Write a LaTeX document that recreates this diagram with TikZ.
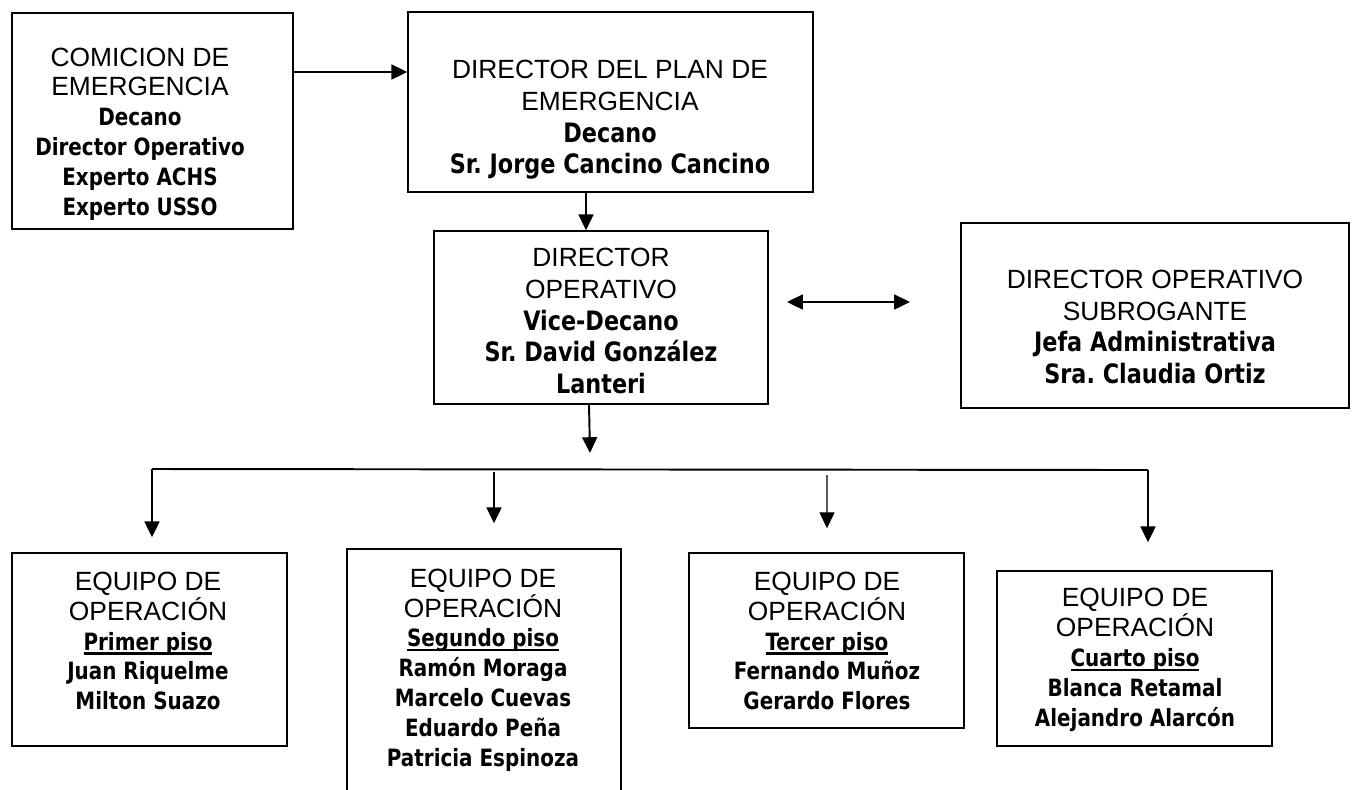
\documentclass[tikz,border=0pt]{standalone}
\usepackage{fontspec}
\usetikzlibrary{
  arrows.meta
  , calc
}
\newfontfamily\capfont{Liberation Sans}
\newfontfamily\namefont{DejaVu Sans Condensed}[FakeStretch=0.93]
\frenchspacing

\newcommand{\nmsz}{13.55}
\newcommand{\lskip}{17}
\tikzset{
  box/.style 2 args={draw, line width=0.85pt, inner sep=0pt,
    minimum width=#1*0.02cm, minimum height=#2*0.02cm},
  txt/.style={align=center, inner sep=0pt,
    font=\fontsize{15}{\lskip}\selectfont},
  big/.style={/utils/exec={\renewcommand{\nmsz}{15.2}\renewcommand{\lskip}{18}}},
  arr/.style={line width=1.1pt, -{Triangle[length=9pt, width=8.5pt]}},
  both/.style={line width=1.1pt, {Triangle[length=9pt, width=8.5pt]}-{Triangle[length=9pt, width=8.5pt]}},
}
\newcommand{\up}[1]{{\capfont #1}}
\newcommand{\nm}[1]{{\namefont\bfseries\fontsize{\nmsz}{\lskip}\selectfont #1}}
\newcommand{\ul}[1]{\leavevmode\setbox0\hbox{#1}\rlap{\raisebox{-2.6pt}{\rule{\wd0}{1.5pt}}}\box0}

\begin{document}
\begin{tikzpicture}[x=0.02cm, y=-0.02cm]
  \useasboundingbox (0,0) rectangle (1355,789);

  % boxes
  \node [box={281}{216}] (com) at (152.5,121) {};
  \node [box={405}{180}] (dir) at (610.5,102) {};
  \node [box={334}{173}] (ope) at (601,317.5) {};
  \node [box={388}{185}] (sub) at (1155,315.5) {};
  \node [box={275}{193}] (pri) at (149.5,649.5) {};
  \node [box={274}{251}] (seg) at (484,674.5) {};
  \node [box={275}{175}] (ter) at (826.5,640.5) {};
  \node [box={275}{175}] (cua) at (1134.5,658.5) {};

  % texts
  \node [txt] (comT) at (140,134) {\up{COMICION DE}\\ \up{EMERGENCIA}\\ \nm{Decano}\\
    \nm{Director Operativo}\\ \nm{Experto ACHS}\\ \nm{Experto USSO}};
  \node [txt, big] (dirT) at (610,120) {\up{DIRECTOR DEL PLAN DE}\\ \up{EMERGENCIA}\\
    \nm{Decano}\\ \nm{Sr. Jorge Cancino Cancino}};
  \node [txt, big] (opeT) at (601,321) {\up{DIRECTOR}\\ \up{OPERATIVO}\\ \nm{Vice-Decano}\\
    \nm{Sr. David González}\\ \nm{Lanteri}};
  \node [txt, big] (subT) at (1155,327) {\up{DIRECTOR OPERATIVO}\\ \up{SUBROGANTE}\\
    \nm{Jefa Administrativa}\\ \nm{Sra. Claudia Ortiz}};
  \node [txt] (priT) at (148,641) {\up{EQUIPO DE}\\ \up{OPERACIÓN}\\ \nm{\ul{Primer piso}}\\
    \nm{Juan Riquelme}\\ \nm{Milton Suazo}};
  \node [txt] (segT) at (483,670) {\up{EQUIPO DE}\\ \up{OPERACIÓN}\\ \nm{\ul{Segundo piso}}\\
    \nm{Ramón Moraga}\\ \nm{Marcelo Cuevas}\\ \nm{Eduardo Peña}\\ \nm{Patricia Espinoza}};
  \node [txt] (terT) at (827,641) {\up{EQUIPO DE}\\ \up{OPERACIÓN}\\ \nm{\ul{Tercer piso}}\\
    \nm{Fernando Muñoz}\\ \nm{Gerardo Flores}};
  \node [txt] (cuaT) at (1135,660) {\up{EQUIPO DE}\\ \up{OPERACIÓN}\\ \nm{\ul{Cuarto piso}}\\
    \nm{Blanca Retamal}\\ \nm{Alejandro Alarcón}};

  % free ends of the connectors
  \coordinate (busL) at (152,469);
  \coordinate (busR) at (1148,470);
  \coordinate (opeEnd) at (590,453);
  \coordinate (lrL) at (787,302);
  \coordinate (lrR) at (910,302);

  \draw [arr] (com.east |- 0,72) -- (dir.west |- 0,72);
  \draw [arr] (dir.south -| 586,0) -- (ope.north -| 586,0);
  \draw [arr] (ope.south -| 589,0) -- (opeEnd);
  \draw [both] (lrL) -- (lrR);

  \draw [line width=1.1pt] (busL) -- (busR);
  \draw [arr] (busL) -- ($(pri.north)+(2.5,-15)$);
  \draw [arr] (494,472) -- ($(seg.north)+(10,-25)$);
  \draw [arr, line width=0.6pt] (827,475) -- ($(ter.north)+(0.5,-24)$);
  \draw [arr] (busR) -- ($(cua.north)+(13.5,-28)$);
\end{tikzpicture}
\end{document}
